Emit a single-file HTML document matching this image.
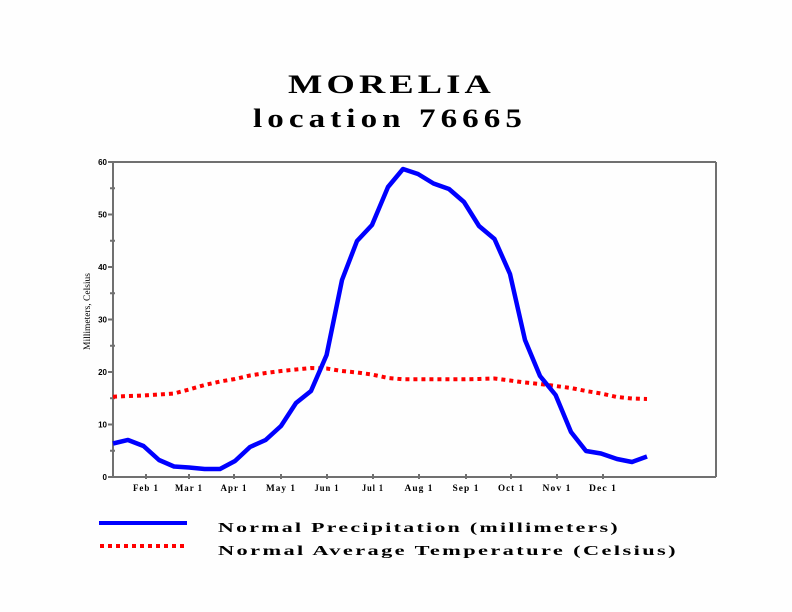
<!DOCTYPE html>
<html><head><meta charset="utf-8"><style>
html,body{margin:0;padding:0;background:#fff;}
svg{display:block;}
</style></head><body>
<svg width="792" height="612" viewBox="0 0 792 612" xmlns="http://www.w3.org/2000/svg">
<rect width="792" height="612" fill="#fefefe"/>
<!-- Title -->
<text x="391.5" y="93" font-family="Liberation Serif, serif" font-size="26" font-weight="bold" letter-spacing="3" text-anchor="middle" textLength="207" lengthAdjust="spacingAndGlyphs" fill="#000">MORELIA</text>
<text x="390" y="127" font-family="Liberation Serif, serif" font-size="26" font-weight="bold" letter-spacing="4" text-anchor="middle" textLength="274" lengthAdjust="spacingAndGlyphs" fill="#000">location 76665</text>
<!-- Axes box -->
<g stroke="#707070" stroke-width="2" fill="none">
<line x1="113" y1="162" x2="716" y2="162"/>
<line x1="716" y1="162" x2="716" y2="477"/>
<line x1="113" y1="477" x2="716" y2="477"/>
<line x1="113" y1="162" x2="113" y2="477"/>
<line x1="108" y1="477" x2="113" y2="477"/>
<line x1="108" y1="424.5" x2="113" y2="424.5"/>
<line x1="108" y1="372" x2="113" y2="372"/>
<line x1="108" y1="319.5" x2="113" y2="319.5"/>
<line x1="108" y1="267" x2="113" y2="267"/>
<line x1="108" y1="214.5" x2="113" y2="214.5"/>
<line x1="108" y1="162" x2="113" y2="162"/>
<line x1="110" y1="450.75" x2="115" y2="450.75"/>
<line x1="110" y1="398.25" x2="115" y2="398.25"/>
<line x1="110" y1="345.75" x2="115" y2="345.75"/>
<line x1="110" y1="293.25" x2="115" y2="293.25"/>
<line x1="110" y1="240.75" x2="115" y2="240.75"/>
<line x1="110" y1="188.25" x2="115" y2="188.25"/>
<line x1="146" y1="474" x2="146" y2="479"/>
<line x1="189" y1="474" x2="189" y2="479"/>
<line x1="234" y1="474" x2="234" y2="479"/>
<line x1="281" y1="474" x2="281" y2="479"/>
<line x1="327" y1="474" x2="327" y2="479"/>
<line x1="373" y1="474" x2="373" y2="479"/>
<line x1="419" y1="474" x2="419" y2="479"/>
<line x1="466" y1="474" x2="466" y2="479"/>
<line x1="511" y1="474" x2="511" y2="479"/>
<line x1="557" y1="474" x2="557" y2="479"/>
<line x1="603" y1="474" x2="603" y2="479"/>
</g>
<!-- y labels -->
<g font-family="Liberation Sans, sans-serif" font-size="8" font-weight="bold" text-anchor="end" fill="#000">
<text x="107" y="480">0</text>
<text x="107" y="427.5">10</text>
<text x="107" y="375">20</text>
<text x="107" y="322.5">30</text>
<text x="107" y="270">40</text>
<text x="107" y="217.5">50</text>
<text x="107" y="165">60</text>
</g>
<!-- y title -->
<text transform="translate(90,311.5) rotate(-90)" font-family="Liberation Serif, serif" font-size="9" text-anchor="middle" textLength="77" lengthAdjust="spacingAndGlyphs" fill="#000">Millimeters, Celsius</text>
<!-- x labels -->
<g font-family="Liberation Serif, serif" font-size="9" font-weight="bold" letter-spacing="1" text-anchor="middle" fill="#000">
<text x="146" y="491" textLength="26" lengthAdjust="spacingAndGlyphs">Feb 1</text>
<text x="189" y="491" textLength="28" lengthAdjust="spacingAndGlyphs">Mar 1</text>
<text x="234" y="491" textLength="27" lengthAdjust="spacingAndGlyphs">Apr 1</text>
<text x="281" y="491" textLength="30" lengthAdjust="spacingAndGlyphs">May 1</text>
<text x="327" y="491" textLength="25" lengthAdjust="spacingAndGlyphs">Jun 1</text>
<text x="373" y="491" textLength="22" lengthAdjust="spacingAndGlyphs">Jul 1</text>
<text x="419" y="491" textLength="29" lengthAdjust="spacingAndGlyphs">Aug 1</text>
<text x="466" y="491" textLength="27" lengthAdjust="spacingAndGlyphs">Sep 1</text>
<text x="511" y="491" textLength="26" lengthAdjust="spacingAndGlyphs">Oct 1</text>
<text x="557" y="491" textLength="29" lengthAdjust="spacingAndGlyphs">Nov 1</text>
<text x="603" y="491" textLength="28" lengthAdjust="spacingAndGlyphs">Dec 1</text>
</g>
<!-- Temperature (red dotted) -->
<polyline fill="none" stroke="#ff0000" stroke-width="4" stroke-dasharray="4 4" points="113,396.7 128,396 143.5,395.5 159,394.5 174,393.5 189,389.5 204.6,385 220,381.5 235,379 250,375.5 265.6,373 281,371 296,369.5 311,368 326.6,368.5 342,371 357,372.5 372,374.5 388,378 403,379.3 418,379.3 433.5,379.3 449,379.3 464,379.3 479,379 494.5,378.5 510,380.5 525,382.5 540,384 555.6,386 571,388 586,391 601,393.5 617,397 632,398.5 647,399"/>
<!-- Precipitation (blue) -->
<polyline fill="none" stroke="#0000ff" stroke-width="4.5" stroke-linejoin="round" points="113,443.5 128,440 143.5,446 159,460 174,466.5 189,467.5 204.6,469 220,469 235,461 250,447 265.6,440 281,426 296,403 311,391 326.6,355 342,280 357,241 372,225 388,187 403,169 418,174 433.5,183.5 449,189 464,202 479,226 494.5,239 510,274 525,340 540,376 555.6,395 571,432 586,451 601,453.5 617,459 632,462 647,456.5"/>
<!-- Legend -->
<line x1="99" y1="523" x2="187" y2="523" stroke="#0000ff" stroke-width="4"/>
<line x1="100" y1="546" x2="188" y2="546" stroke="#ff0000" stroke-width="4" stroke-dasharray="4 4"/>
<g font-family="Liberation Serif, serif" font-size="14" font-weight="bold" letter-spacing="1.5" fill="#000">
<text x="218" y="532" textLength="402" lengthAdjust="spacingAndGlyphs">Normal Precipitation (millimeters)</text>
<text x="218" y="555" textLength="460" lengthAdjust="spacingAndGlyphs">Normal Average Temperature (Celsius)</text>
</g>
</svg>
</body></html>
